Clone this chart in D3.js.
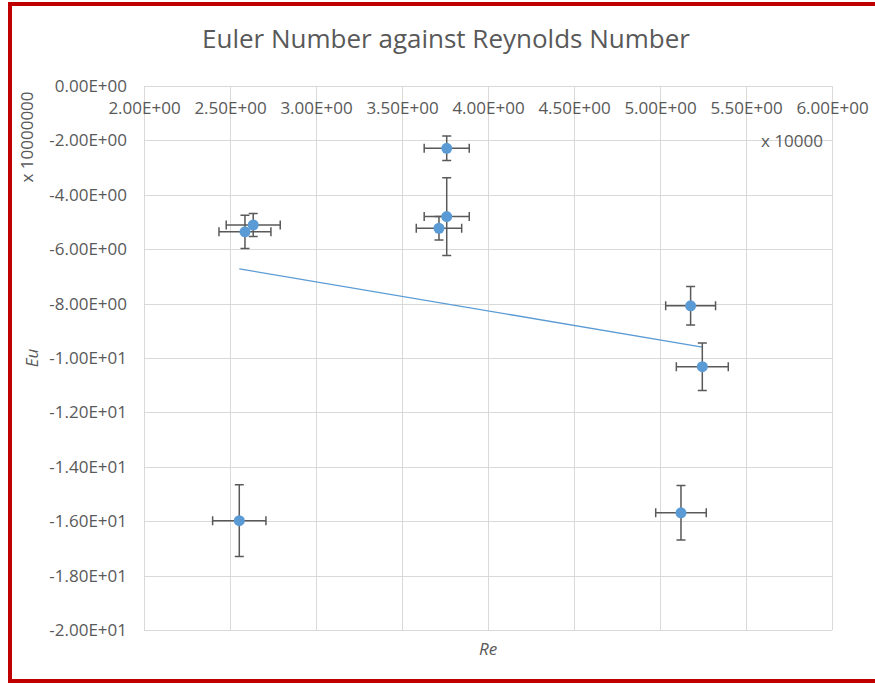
<!DOCTYPE html>
<html lang="en">

<head>
    <meta charset="UTF-8">
    <title>Euler Number against Reynolds Number</title>
    <style>
        html,
        body {
            background-color: white;
            margin: 0;
        }

        text {
            font-family: "Open Sans", sans-serif;
            fill: #595959;
        }
    </style>
</head>

<body>
    <main></main>
    <script src="https://d3js.org/d3.v7.min.js"></script>
    <script>
        // Re in units of 10000, Eu in units of 10000000 (as the axes display them)
        const reValues = [2.587, 2.635, 3.760, 3.760, 3.715, 5.178, 5.246, 2.554, 5.122];
        const euValues = [-5.36, -5.11, -2.29, -4.80, -5.23, -8.08, -10.32, -15.98, -15.69];
        const reErrors = [0.151, 0.157, 0.131, 0.131, 0.132, 0.145, 0.151, 0.155, 0.147];
        const euErrors = [0.61, 0.42, 0.45, 1.43, 0.43, 0.71, 0.875, 1.32, 1.0];

        const xTicks = [2.0, 2.5, 3.0, 3.5, 4.0, 4.5, 5.0, 5.5, 6.0];
        const yTicks = [0, -2, -4, -6, -8, -10, -12, -14, -16, -18, -20];

        !(function () {
            'use strict';

            let svg,
                x, y,
                canvas = { width: 875, height: 684 },
                plot = { left: 144, right: 832, top: 86, bottom: 630 },
                points = reValues.map(function (d, i) {
                    return { re: d, eu: euValues[i], reErr: reErrors[i], euErr: euErrors[i] };
                });

            // Excel style: 2.00E+00
            function sci(v) {
                let s = v.toExponential(2).toUpperCase();
                return s.replace(/E([+-])(\d)$/, 'E$10$2');
            }

            function setSvg() {
                svg = d3.select('main')
                    .append('svg')
                    .attr('width', canvas.width)
                    .attr('height', canvas.height);

                // red frame round the chart, right side runs off the picture
                svg.append('rect')
                    .attr('x', 10)
                    .attr('y', 4)
                    .attr('width', 900)
                    .attr('height', 677)
                    .attr('fill', 'none')
                    .attr('stroke', '#C00000')
                    .attr('stroke-width', 4);
            }

            function setScales() {
                x = d3.scaleLinear().domain([2, 6]).range([plot.left, plot.right]);
                y = d3.scaleLinear().domain([-20, 0]).range([plot.bottom, plot.top]);
            }

            function drawGrid() {
                let grid = svg.append('g').attr('stroke', '#D9D9D9').attr('stroke-width', 1);

                grid.selectAll('.vline')
                    .data(xTicks)
                    .enter().append('line')
                    .attr('x1', function (d) { return Math.round(x(d)) + 0.5; })
                    .attr('x2', function (d) { return Math.round(x(d)) + 0.5; })
                    .attr('y1', plot.top)
                    .attr('y2', plot.bottom);

                grid.selectAll('.hline')
                    .data(yTicks)
                    .enter().append('line')
                    .attr('y1', function (d) { return Math.round(y(d)) + 0.5; })
                    .attr('y2', function (d) { return Math.round(y(d)) + 0.5; })
                    .attr('x1', plot.left)
                    .attr('x2', plot.right);
            }

            function drawAxes() {
                let xAxis, yAxis;

                xAxis = svg.append('g')
                    .attr('transform', 'translate(0,' + plot.top + ')')
                    .call(d3.axisBottom(x).tickValues(xTicks).tickFormat(sci).tickSize(0).tickPadding(16));

                yAxis = svg.append('g')
                    .attr('transform', 'translate(' + plot.left + ',0)')
                    .call(d3.axisLeft(y).tickValues(yTicks).tickFormat(sci).tickSize(0).tickPadding(17));

                [xAxis, yAxis].forEach(function (a) {
                    a.select('.domain').remove();
                    a.selectAll('text')
                        .attr('fill', '#595959')
                        .style('font-size', '17px')
                        .style('font-family', '"Open Sans", sans-serif');
                });

                svg.append('text')
                    .attr('x', 823)
                    .attr('y', 147)
                    .attr('text-anchor', 'end')
                    .style('font-size', '17px')
                    .text('x 10000');

                svg.append('text')
                    .attr('transform', 'translate(33,137) rotate(-90)')
                    .attr('text-anchor', 'middle')
                    .style('font-size', '17px')
                    .text('x 10000000');

                svg.append('text')
                    .attr('transform', 'translate(38,358) rotate(-90)')
                    .attr('text-anchor', 'middle')
                    .style('font-size', '17px')
                    .style('font-style', 'italic')
                    .text('Eu');

                svg.append('text')
                    .attr('x', 488)
                    .attr('y', 655)
                    .attr('text-anchor', 'middle')
                    .style('font-size', '17px')
                    .style('font-style', 'italic')
                    .text('Re');

                svg.append('text')
                    .attr('x', 446)
                    .attr('y', 48)
                    .attr('text-anchor', 'middle')
                    .style('font-size', '26px')
                    .text('Euler Number against Reynolds Number');
            }

            function drawTrend() {
                let mx = d3.mean(reValues),
                    my = d3.mean(euValues),
                    sxy = d3.sum(points, function (d) { return (d.re - mx) * (d.eu - my); }),
                    sxx = d3.sum(points, function (d) { return (d.re - mx) * (d.re - mx); }),
                    slope = sxy / sxx,
                    icpt = my - slope * mx,
                    x0 = d3.min(reValues),
                    x1 = d3.max(reValues);

                svg.append('line')
                    .attr('x1', x(x0))
                    .attr('y1', y(icpt + slope * x0))
                    .attr('x2', x(x1))
                    .attr('y2', y(icpt + slope * x1))
                    .attr('stroke', '#5B9BD5')
                    .attr('stroke-width', 1.3);
            }

            function drawPoints() {
                let cap = 4.5,
                    bars = svg.append('g')
                        .attr('stroke', '#595959')
                        .attr('stroke-width', 1.5)
                        .selectAll('g')
                        .data(points)
                        .enter().append('g');

                // horizontal error bars
                bars.append('path')
                    .attr('fill', 'none')
                    .attr('d', function (d) {
                        let xa = x(d.re - d.reErr), xb = x(d.re + d.reErr), yc = y(d.eu);
                        return 'M' + xa + ',' + yc + 'H' + xb +
                            'M' + xa + ',' + (yc - cap) + 'V' + (yc + cap) +
                            'M' + xb + ',' + (yc - cap) + 'V' + (yc + cap);
                    });

                // vertical error bars
                bars.append('path')
                    .attr('fill', 'none')
                    .attr('d', function (d) {
                        let ya = y(d.eu + d.euErr), yb = y(d.eu - d.euErr), xc = x(d.re);
                        return 'M' + xc + ',' + ya + 'V' + yb +
                            'M' + (xc - cap) + ',' + ya + 'H' + (xc + cap) +
                            'M' + (xc - cap) + ',' + yb + 'H' + (xc + cap);
                    });

                svg.append('g')
                    .selectAll('circle')
                    .data(points)
                    .enter().append('circle')
                    .attr('cx', function (d) { return x(d.re); })
                    .attr('cy', function (d) { return y(d.eu); })
                    .attr('r', 5.5)
                    .attr('fill', '#5B9BD5');
            }

            function main() {
                setSvg();
                setScales();
                drawGrid();
                drawAxes();
                drawTrend();
                drawPoints();
            }

            main();
        }());
    </script>
</body>

</html>
